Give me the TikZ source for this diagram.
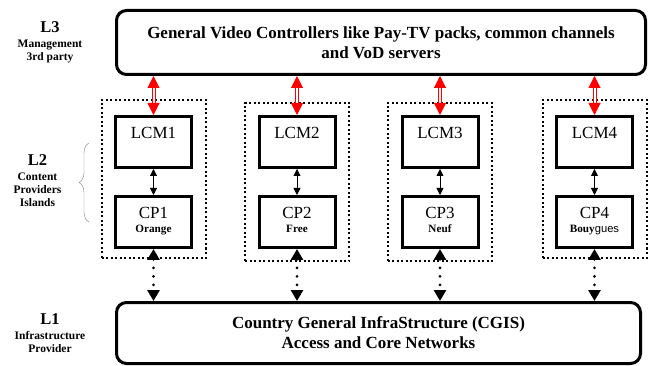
\documentclass[tikz,border=0pt]{standalone}
\usepackage{fontspec}
\setmainfont{Liberation Serif}
\newfontfamily\arialfont{Liberation Sans}
\usetikzlibrary{arrows.meta,positioning,decorations.pathreplacing}

\newcommand{\cpbox}[2]{\begin{tabular}{@{}c@{}}#1\\[-6pt]{\fontsize{11.2}{13}\selectfont\bfseries #2}\end{tabular}}

\begin{document}
\begin{tikzpicture}[x=1pt,y=-1pt,
    redlink/.style={draw=red,line width=1pt,double=white,double distance=2pt,{Triangle[width=12pt,length=12pt]}-{Triangle[width=12pt,length=12pt]}},
    smalllink/.style={line width=0.8pt,{Triangle[width=7pt,length=7pt]}-{Triangle[width=7pt,length=7pt]}},
    dotlink/.style={line width=3pt,line cap=round,dash pattern=on 0pt off 8.5pt,{Triangle[width=12pt,length=11pt]}-{Triangle[width=12pt,length=11pt]}}]%
        \useasboundingbox (0,0) rectangle (648,366);
        \begin{scope}
            \tikzstyle{every node}=[draw,line width=2pt,dash pattern=on 2pt off 2.5pt,minimum width=104pt,minimum height=158pt];%%
            \node (isl1) at (153.5,179) {}; %%
            \node (isl2) at (297,182) {}; %%
            \node (isl3) at (439.5,182) {}; %%
            \node (isl4) at (594.5,179) {}; %%
        \end{scope}
        \begin{scope}
            \tikzstyle{every node}=[draw,line width=3pt,rounded corners=10pt,align=center,font=\fontsize{17}{20}\selectfont\bfseries];%%
            \node[minimum width=529pt,minimum height=64pt] (gvc) at (381,42.5) {General Video Controllers like Pay-TV packs, common channels\\and VoD servers}; %%
            \node[minimum width=524pt,minimum height=61pt] (cgis) at (378.5,333) {Country General InfraStructure (CGIS)\\Access and Core Networks}; %%
        \end{scope}
        \begin{scope}
            \tikzstyle{every node}=[draw,line width=3pt,minimum width=76pt,inner sep=3pt,text height=19.5pt,text depth=25.5pt,font=\fontsize{17}{20}\selectfont];%%
            \node (lcm1) at (153.5,142) {LCM1}; %%
            \node (lcm2) at (297,142) {LCM2}; %%
            \node (lcm3) at (440,142) {LCM3}; %%
            \node (lcm4) at (594.5,142) {LCM4}; %%
        \end{scope}
        \begin{scope}
            \tikzstyle{every node}=[draw,line width=3pt,minimum width=76pt,minimum height=51pt,inner sep=0pt,font=\fontsize{17}{20}\selectfont];%%
            \node (cp1) at (153.5,222) {\cpbox{CP1}{Orange}}; %%
            \node (cp2) at (297,222) {\cpbox{CP2}{Free}}; %%
            \node (cp3) at (440,222) {\cpbox{CP3}{Neuf}}; %%
            \node (cp4) at (594.5,222) {\cpbox{CP4}{Bouy{\arialfont\mdseries gues}}}; %%
        \end{scope}
        \begin{scope}
            \tikzstyle{every node}=[anchor=north,inner sep=0pt,font=\fontsize{11.5}{13}\selectfont\bfseries];%%
            \node (l3) at (50,21) {\begin{tabular}{@{}c@{}}{\fontsize{16.5}{18}\selectfont L3}\\[2pt]Management\\3rd party\end{tabular}}; %%
            \node (l2) at (37.5,154.5) {\begin{tabular}{@{}c@{}}{\fontsize{16.5}{18}\selectfont L2}\\[2pt]Content\\Providers\\Islands\end{tabular}}; %%
            \node (l1) at (50,313.5) {\begin{tabular}{@{}c@{}}{\fontsize{16.5}{18}\selectfont L1}\\[2pt]Infrastructure\\Provider\end{tabular}}; %%
        \end{scope}
        \draw[gray,decorate,decoration={brace,amplitude=10pt}] (89,222)--(89,143); %%
        \foreach \i in {1,...,4} {
            \draw[redlink] (gvc.south -| lcm\i)--(lcm\i.north); %%
            \draw[smalllink] (lcm\i)--(cp\i); %%
            \draw[dotlink] (cp\i.south)--(cp\i.south |- cgis.north); %%
        }
        \end{tikzpicture}
\end{document}
